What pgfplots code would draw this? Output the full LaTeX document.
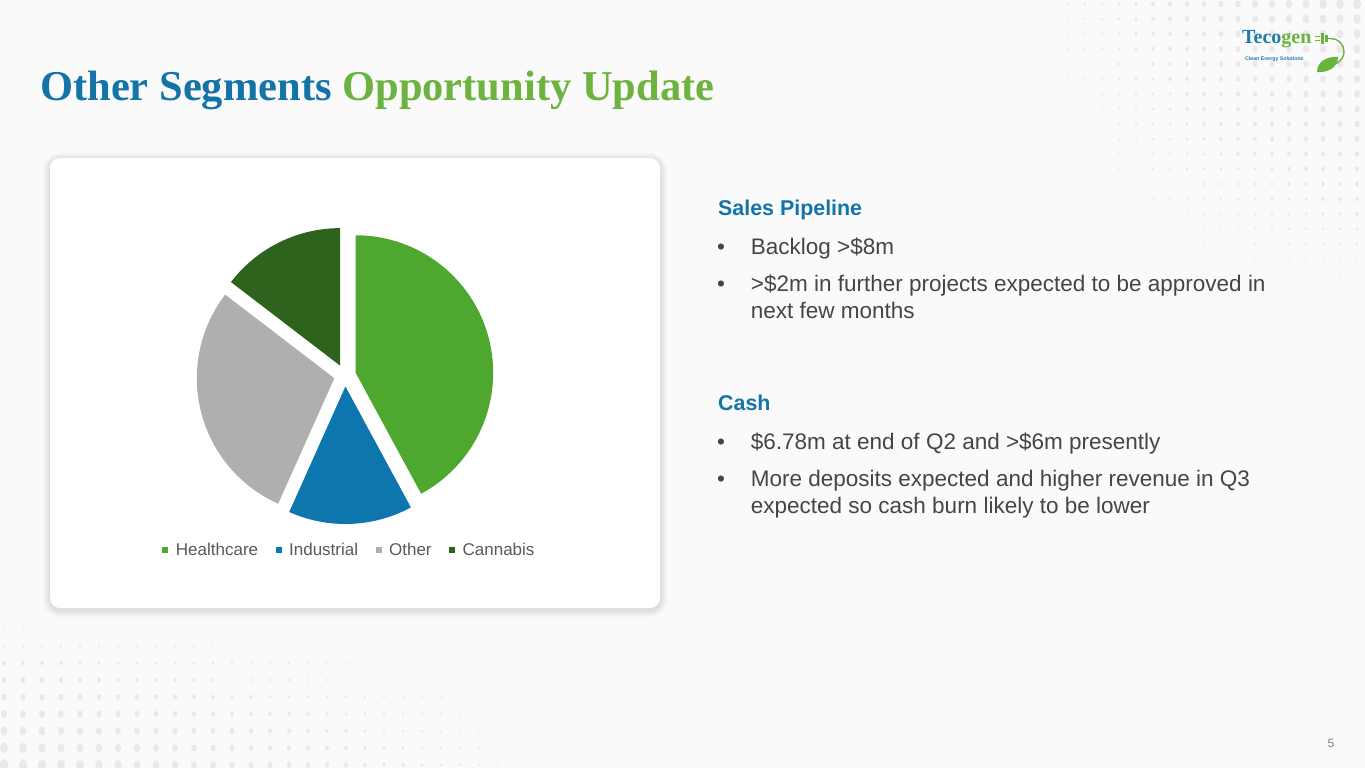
\documentclass[border=0pt]{standalone}
\usepackage{fontspec}
\setmainfont{Liberation Sans}
\newfontfamily\titlefont{Liberation Serif}
\usepackage{pgfplots}
\pgfplotsset{compat=1.18}
\usepackage{pgfplotstable}

\definecolor{bg}{HTML}{FAFAFB}
\definecolor{dotc}{HTML}{E9E9EB}
\definecolor{tblue}{HTML}{1474A8}
\definecolor{tgreen}{HTML}{6DB33F}
\definecolor{cHealth}{HTML}{4EA72E}
\definecolor{cInd}{HTML}{0E76AE}
\definecolor{cOther}{HTML}{AFAFAF}
\definecolor{cCann}{HTML}{2E631D}
\definecolor{bodytext}{HTML}{454545}
\definecolor{legtext}{HTML}{595959}
\definecolor{logoblue}{HTML}{1C7DAA}
\definecolor{logogreen}{HTML}{6AB43E}

% share of each segment (per cent)
\pgfplotstableread{
label value
Healthcare 42.1
Industrial 14.6
Other 28.7
Cannabis 14.6
}\piedata

\def\pieR{137.5pt}
\def\explode{0.08}
\newcommand\slice[2]{%
  \pgfplotstablegetelem{#1}{value}\of\piedata
  \pgfmathsetmacro\sStart{\curang}%
  \pgfmathsetmacro\sEnd{\curang-360*\pgfplotsretval/\pietotal}%
  \pgfmathsetmacro\sMid{(\sStart+\sEnd)/2}%
  \pgfmathsetmacro\ox{\explode*cos(\sMid)}%
  \pgfmathsetmacro\oy{\explode*sin(\sMid)}%
  \edef\doit{\noexpand\fill[#2] (axis cs:\ox,\oy) -- (axis cs:{\ox+cos(\sStart)},{\oy+sin(\sStart)}) arc[start angle=\sStart, end angle=\sEnd, radius=\pieR] -- cycle;}%
  \doit
  \xdef\curang{\sEnd}%
}

\begin{document}
\begin{tikzpicture}
\gdef\pietotal{0}
\pgfplotstableforeachcolumnelement{value}\of\piedata\as\v{\pgfmathparse{\pietotal+\v}\xdef\pietotal{\pgfmathresult}}
\gdef\curang{90}

\begin{scope}[x=1pt,y=-1pt]
\useasboundingbox (0,0) rectangle (1365,768);
\fill[bg] (0,0) rectangle (1365,768);
% faint dotted background
\foreach \xx in {4,23,...,580}{
  \foreach \yy in {612,629,...,770}{
    \pgfmathsetmacro\rr{max(0,4.6*(1-\xx/620)*((\yy-595)/175))}
    \ifdim\rr pt>0.5pt \fill[dotc] (\xx,\yy) ellipse [x radius=\rr, y radius=1.3*\rr]; \fi
  }}
\foreach \xx in {1000,1017,...,1370}{
  \foreach \yy in {4,19,...,340}{
    \pgfmathsetmacro\rr{max(0,4.2*((\xx-980)/385)*(1-\yy/345))}
    \ifdim\rr pt>0.5pt \fill[dotc] (\xx,\yy) ellipse [x radius=\rr, y radius=1.3*\rr]; \fi
  }}
% card shadow
\foreach \i in {1,...,7}{
  \fill[black, opacity=0.014, rounded corners=10+\i] (50-\i,158-\i+2) rectangle (660+\i,608+\i+2);
}
\fill[white, rounded corners=10] (50,158) rectangle (660,608);

% title
\node[anchor=base west, inner sep=0] at (40,100.7) {\titlefont\bfseries\fontsize{42.5}{48}\selectfont\color{tblue}Other Segments \color{tgreen}Opportunity Update};

% logo
\node[anchor=base west, inner sep=0] at (1242,43.3) {\titlefont\bfseries\fontsize{20}{22}\selectfont\color{logoblue}Teco\color{logogreen}gen};
\node[anchor=base west, inner sep=0] at (1245,61) {\bfseries\fontsize{5.2}{6}\selectfont\color{logoblue}Clean Energy Solutions};
\draw[logogreen, line width=1.3] (1315,36.5)--(1320,36.5) (1315,40.5)--(1320,40.5);
\fill[logogreen] (1321,33) rectangle (1323.5,44);
\fill[logogreen] (1325,35) rectangle (1328,42);
\draw[logogreen, line width=1.4] (1328,38.5) -- (1331,38.5) arc[start angle=-90, end angle=100, radius=13];
\fill[logogreen] (1317,72) .. controls (1317,61) and (1328,56) .. (1338,57) .. controls (1338,67) and (1328,73) .. cycle;

% right text
\node[anchor=base west, inner sep=0] at (718,215.7) {\bfseries\fontsize{21.4}{24}\selectfont\color{tblue}Sales Pipeline};
\begin{scope}[every node/.style={anchor=base west, inner sep=0, font=\fontsize{22.5}{26}\selectfont, text=bodytext}]
\node at (717,254.3) {•};
\node at (750.7,254.3) {Backlog >\$8m};
\node at (717,291.7) {•};
\node at (750.7,291.7) {>\$2m in further projects expected to be approved in};
\node at (750.7,318.3) {next few months};
\node at (717,449.3) {•};
\node at (750.7,449.3) {\$6.78m at end of Q2 and >\$6m presently};
\node at (717,486.7) {•};
\node at (750.7,486.7) {More deposits expected and higher revenue in Q3};
\node at (750.7,513.3) {expected so cash burn likely to be lower};
\end{scope}
\node[anchor=base west, inner sep=0] at (718,410.7) {\bfseries\fontsize{21.4}{24}\selectfont\color{tblue}Cash};

% page number
\node[anchor=base, inner sep=0, text=gray] at (1331,747) {\fontsize{12}{14}\selectfont 5};
\end{scope}

\begin{axis}[
  at={(345pt,-375.5pt)}, anchor=center,
  x=137.5pt, y=137.5pt,
  xmin=-1.3, xmax=1.3, ymin=-1.3, ymax=1.3,
  hide axis, clip=false,
  legend columns=4,
  legend image code/.code={\fill[#1, draw=none] (0pt,-3pt) rectangle (6pt,3pt);},
  legend style={at={(axis cs:0.025,-1.27)}, anchor=center, draw=none, fill=none,
    font=\fontsize{17}{19}\selectfont, text=legtext,
    nodes={inner sep=0pt},
    /tikz/every odd column/.append style={column sep=7.5pt},
    /tikz/every even column/.append style={column sep=17.5pt}},
]
\slice{0}{cHealth}
\slice{1}{cInd}
\slice{2}{cOther}
\slice{3}{cCann}
\addlegendimage{fill=cHealth}\addlegendentry{Healthcare}
\addlegendimage{fill=cInd}\addlegendentry{Industrial}
\addlegendimage{fill=cOther}\addlegendentry{Other}
\addlegendimage{fill=cCann}\addlegendentry{Cannabis}
\end{axis}
\end{tikzpicture}
\end{document}
